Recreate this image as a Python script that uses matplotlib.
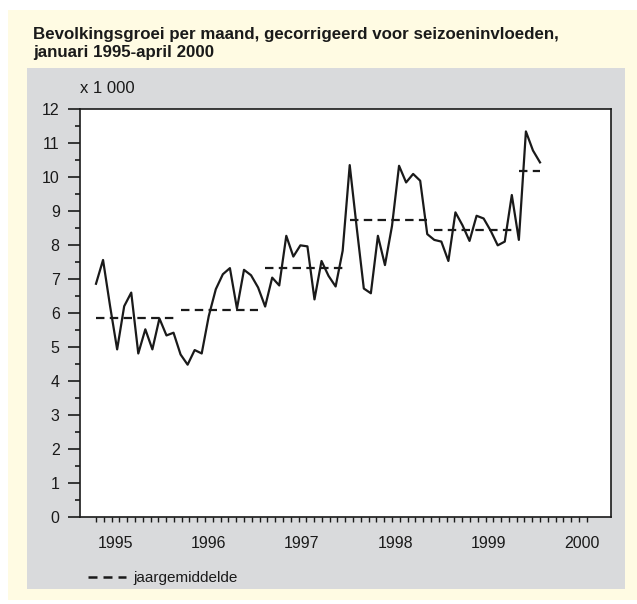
import matplotlib
matplotlib.use("Agg")
import matplotlib.pyplot as plt
from matplotlib.patches import Rectangle
import numpy as np

plt.rcParams['font.family'] = ['Liberation Sans', 'DejaVu Sans']

# Bevolkingsgroei per maand (x 1 000), jan 1995 - apr 2000
groei = [6.86, 7.56, 6.2, 4.93, 6.2, 6.6, 4.81, 5.52, 4.93, 5.84, 5.34, 5.42,
         4.78, 4.48, 4.91, 4.81, 5.91, 6.7, 7.14, 7.32, 6.13, 7.27, 7.11, 6.75,
         6.19, 7.04, 6.81, 8.27, 7.66, 7.99, 7.96, 6.4, 7.53, 7.09, 6.78, 7.83,
         10.35, 8.5, 6.72, 6.58, 8.27, 7.41, 8.56, 10.33, 9.84, 10.09, 9.89, 8.32,
         8.15, 8.1, 7.53, 8.96, 8.58, 8.12, 8.86, 8.78, 8.42, 7.99, 8.1, 9.47,
         8.15, 11.34, 10.78, 10.43]
jaren = [1995, 1996, 1997, 1998, 1999, 2000]
jaargemiddelde = [5.85, 6.1, 7.31, 8.75, 8.44, 10.17]

fig = plt.figure(figsize=(6.37, 6.04), dpi=100)
fig.patch.set_facecolor('white')

# achtergrondvlakken
fig.patches.append(Rectangle((8 / 637, 1 - 600 / 604), 1 - 8 / 637, 590 / 604,
                             transform=fig.transFigure, facecolor='#fffbe3',
                             edgecolor='none', zorder=-10))
fig.patches.append(Rectangle((27 / 637, 1 - 589 / 604), 598 / 637, 521 / 604,
                             transform=fig.transFigure, facecolor='#d9dadc',
                             edgecolor='none', zorder=-9))

fig.text(33 / 637, 1 - 39 / 604, 'Bevolkingsgroei per maand, gecorrigeerd voor seizoeninvloeden,',
         fontsize=12.2, fontweight='bold', va='baseline', color='#1a1a1a')
fig.text(33 / 637, 1 - 57 / 604, 'januari 1995-april 2000',
         fontsize=12.2, fontweight='bold', va='baseline', color='#1a1a1a')
fig.text(80 / 637, 1 - 93 / 604, 'x 1 000', fontsize=12, va='baseline', color='#1a1a1a')

ax = fig.add_axes([80 / 637, 1 - 517 / 604, 531 / 637, 408 / 604])
ax.set_facecolor('white')
ax.set_zorder(1)

maanden = np.arange(len(groei))
ax.plot(maanden, groei, color='#1a1a1a', lw=1.6, zorder=3)
for i, (jaar, gem) in enumerate(zip(jaren, jaargemiddelde)):
    start = i * 12
    eind = min(start + 11, len(groei) - 1)
    ax.plot([start, eind], [gem, gem], color='#1a1a1a', lw=1.6,
            dashes=(3.8, 2.4), zorder=2)

ax.set_xlim(-16 / 7.048, 63 + 71 / 7.048)
ax.set_ylim(0, 12)
ax.set_xticks([])
ax.set_yticks(range(0, 13))
ax.set_yticks(np.arange(0.5, 12, 1), minor=True)
ax.tick_params(axis='y', which='major', length=8.6, width=1.2, labelsize=11.5,
               pad=6, colors='#1a1a1a')
ax.tick_params(axis='y', which='minor', length=3.8, width=1.2, colors='#1a1a1a')
for s in ax.spines.values():
    s.set_color('#1a1a1a')
    s.set_linewidth(1.2)

# maandstreepjes en jaartallen op eigen schaal
ax2 = ax.twiny()
ax2.set_xlim(-16 / 7.79, 515 / 7.79)
ax2.xaxis.set_ticks_position('bottom')
ax2.xaxis.set_label_position('bottom')
for s in ax2.spines.values():
    s.set_visible(False)
ax2.set_xticks(range(64))
ax2.set_xticklabels([])
ax2.set_xticks([2.44 + 12 * k for k in range(len(jaren))], [str(j) for j in jaren], minor=True)
ax2.tick_params(axis='x', which='major', length=3.8, width=1.0, direction='out', color='#1a1a1a')
ax2.tick_params(axis='x', which='minor', length=0, pad=14, labelsize=11.5, labelcolor='#1a1a1a')

# legenda
fig.add_artist(plt.Line2D([88 / 637, 126 / 637], [1 - 577 / 604, 1 - 577 / 604],
                          transform=fig.transFigure, color='#1a1a1a', lw=1.8, dashes=(3.6, 2.4)))
fig.text(133 / 637, 1 - 582 / 604, 'jaargemiddelde', fontsize=11, va='baseline', color='#1a1a1a')

fig.savefig('out.png', dpi=100)
